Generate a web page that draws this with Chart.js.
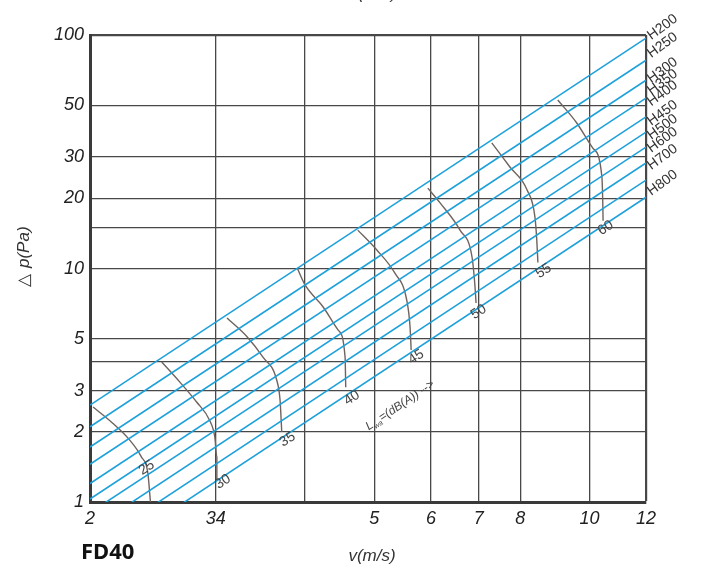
<!DOCTYPE html>
<html>
<head>
<meta charset="utf-8">
<script src="https://cdn.jsdelivr.net/npm/chart.js@4.4.1/dist/chart.umd.min.js"></script>
<style>
  html, body { margin: 0; padding: 0; background: #fff; }
  #wrap { width: 702px; height: 567px; position: relative; }
</style>
</head>
<body>
<div id="wrap"><canvas id="c"></canvas></div>
<script>
// axis ticks
const xTicks = [2, 3, 4, 5, 6, 7, 8, 10, 12];
const xTickLabels = ['2', '34', '', '5', '6', '7', '8', '10', '12'];
const yTicks = [1, 2, 3, 4, 5, 10, 15, 20, 30, 50, 100];
const yTickLabels = ['1', '2', '3', '', '5', '10', '', '20', '30', '50', '100'];

// duct sizes: pressure at v=2 and v=12
const ductNames = ['H200', 'H250', 'H300', 'H350', 'H400', 'H450', 'H500', 'H600', 'H700', 'H800'];
const ductP2 = [2.6, 2.1, 1.72, 1.45, 1.2, 1.03, 0.9, 0.76, 0.64, 0.54];
const ductP12 = [97, 78, 64, 53.7, 44.6, 38.4, 33.1, 28.3, 23.9, 20.2];
const ductLabelP = [98, 82, 64, 57, 51, 42, 36.6, 32.2, 27.2, 21.1];

// sound level curves Lwa (dB(A))
const levelNames = ['25', '30', '35', '40', '45', '50', '55', '60'];
const levelV = [
  [2.02, 2.15, 2.27, 2.36, 2.41, 2.43],
  [2.52, 2.67, 2.82, 2.94, 2.99, 3.01, 3.01],
  [3.11, 3.32, 3.49, 3.65, 3.69, 3.71],
  [3.90, 4.00, 4.24, 4.45, 4.55, 4.56],
  [4.74, 5.04, 5.34, 5.55, 5.61, 5.63],
  [5.94, 6.18, 6.59, 6.85, 6.91, 6.94],
  [7.30, 7.74, 8.18, 8.39, 8.44, 8.47],
  [9.03, 9.60, 10.11, 10.41, 10.44, 10.45]
];
const levelP = [
  [2.55, 2.18, 1.85, 1.56, 1.33, 1.0],
  [3.98, 3.27, 2.68, 2.24, 1.90, 1.56, 1.24],
  [6.14, 5.09, 4.18, 3.33, 2.73, 2.0],
  [10.05, 8.5, 6.84, 5.45, 4.18, 3.1],
  [14.6, 12.0, 9.57, 7.33, 5.62, 4.48],
  [22.1, 19.1, 14.6, 11.2, 8.67, 7.12],
  [34.5, 27.2, 21.7, 16.6, 13.2, 10.6],
  [52.7, 42.0, 32.8, 24.7, 19.0, 16.0]
];
const levelLabelV = [2.40, 3.07, 3.78, 4.65, 5.72, 7.0, 8.63, 10.54];
const levelLabelP = [1.40, 1.22, 1.85, 2.79, 4.18, 6.51, 9.76, 14.9];

const blue = 'rgb(30,160,218)';
const curveGray = 'rgb(110,100,95)';
const gridGray = '#484848';

const datasets = [];
ductNames.forEach(function (n, i) {
  datasets.push({
    label: n,
    data: [{x: 2, y: ductP2[i]}, {x: 12, y: ductP12[i]}],
    borderColor: blue,
    borderWidth: 1.6,
    pointRadius: 0,
    showLine: true
  });
});
levelNames.forEach(function (n, i) {
  datasets.push({
    label: 'L' + n,
    data: levelV[i].map(function (v, j) { return {x: v, y: levelP[i][j]}; }),
    borderColor: curveGray,
    borderWidth: 1.4,
    pointRadius: 0,
    showLine: true,
    cubicInterpolationMode: 'monotone'
  });
});

function rotText(ctx, txt, x, y, ang, align) {
  ctx.save();
  ctx.translate(x, y);
  ctx.rotate(ang);
  ctx.textAlign = align || 'center';
  ctx.fillText(txt, 0, 0);
  ctx.restore();
}

const textPlugin = {
  id: 'texts',
  afterDraw: function (chart) {
    const ctx = chart.ctx;
    const xs = chart.scales.x, ys = chart.scales.y;
    const ang = -33 * Math.PI / 180;
    ctx.save();
    ctx.textBaseline = 'middle';

    // level labels
    ctx.fillStyle = '#444';
    ctx.font = '14px "Liberation Sans", Arial, sans-serif';
    levelNames.forEach(function (n, i) {
      rotText(ctx, n, xs.getPixelForValue(levelLabelV[i]), ys.getPixelForValue(levelLabelP[i]), ang);
    });

    // duct labels
    ctx.fillStyle = '#333';
    ctx.font = '14px "Liberation Sans", Arial, sans-serif';
    ductNames.forEach(function (n, i) {
      rotText(ctx, n, xs.getPixelForValue(12) + 3, ys.getPixelForValue(ductLabelP[i]), -36 * Math.PI / 180, 'left');
    });

    // Lwa label
    ctx.save();
    ctx.translate(xs.getPixelForValue(5.55), ys.getPixelForValue(2.71));
    ctx.rotate(-34 * Math.PI / 180);
    ctx.fillStyle = '#444';
    ctx.textAlign = 'left';
    ctx.font = 'italic 12px "Liberation Sans", Arial, sans-serif';
    ctx.fillText('L', -48, 0);
    ctx.font = 'italic 7px "Liberation Sans", Arial, sans-serif';
    ctx.fillText('wa', -41, 4);
    ctx.font = 'italic 12px "Liberation Sans", Arial, sans-serif';
    ctx.fillText('=(dB(A)) -->', -32, 0);
    ctx.restore();

    // axis titles
    ctx.fillStyle = '#333';
    ctx.font = 'italic 17px "Liberation Sans", Arial, sans-serif';
    ctx.textAlign = 'center';
    ctx.fillText('v(m/s)', 372, 556);
    ctx.fillText('v(m/s)', 373, -6);
    ctx.save();
    ctx.translate(24, 251);
    ctx.rotate(-Math.PI / 2);
    ctx.font = '17px "Liberation Sans", Arial, sans-serif';
    ctx.textAlign = 'left';
    ctx.fillText('\u25B3', -36, 0);
    ctx.font = 'italic 17px "Liberation Sans", Arial, sans-serif';
    ctx.fillText('p(Pa)', -17, 0);
    ctx.restore();

    ctx.fillStyle = '#111';
    ctx.font = 'bold 22px "Noto Sans", "Open Sans", sans-serif';
    ctx.textAlign = 'left';
    ctx.fillText('FD40', 81, 553);
    ctx.restore();
  }
};

function edgeWidth(ctx) {
  const n = ctx.scale.ticks.length;
  return (ctx.index === n - 1) ? 2.2 : 1.3;
}

new Chart(document.getElementById('c'), {
  type: 'scatter',
  data: { datasets: datasets },
  plugins: [textPlugin],
  options: {
    responsive: true,
    maintainAspectRatio: false,
    animation: false,
    layout: { padding: { top: 35, right: 56, left: 0, bottom: 0 } },
    plugins: { legend: { display: false }, tooltip: { enabled: false } },
    scales: {
      x: {
        type: 'logarithmic',
        min: 2,
        max: 12,
        afterBuildTicks: function (s) { s.ticks = xTicks.map(function (v) { return {value: v}; }); },
        afterFit: function (s) { s.height = 65; },
        ticks: {
          autoSkip: false,
          maxRotation: 0,
          padding: 6,
          color: '#222',
          font: { family: '"Liberation Sans", Arial, sans-serif', size: 18, style: 'italic' },
          callback: function (v) { const i = xTicks.indexOf(v); return i >= 0 ? xTickLabels[i] : ''; }
        },
        grid: { color: gridGray, lineWidth: edgeWidth, drawTicks: false },
        border: { color: '#3a3a3a', width: 3 }
      },
      y: {
        type: 'logarithmic',
        min: 1,
        max: 100,
        afterBuildTicks: function (s) { s.ticks = yTicks.map(function (v) { return {value: v}; }); },
        afterFit: function (s) { s.width = 90; },
        ticks: {
          autoSkip: false,
          padding: 6,
          color: '#222',
          font: { family: '"Liberation Sans", Arial, sans-serif', size: 18, style: 'italic' },
          callback: function (v) { const i = yTicks.indexOf(v); return i >= 0 ? yTickLabels[i] : ''; }
        },
        grid: { color: gridGray, lineWidth: edgeWidth, drawTicks: false },
        border: { color: '#3a3a3a', width: 3 }
      }
    }
  }
});
</script>
</body>
</html>
